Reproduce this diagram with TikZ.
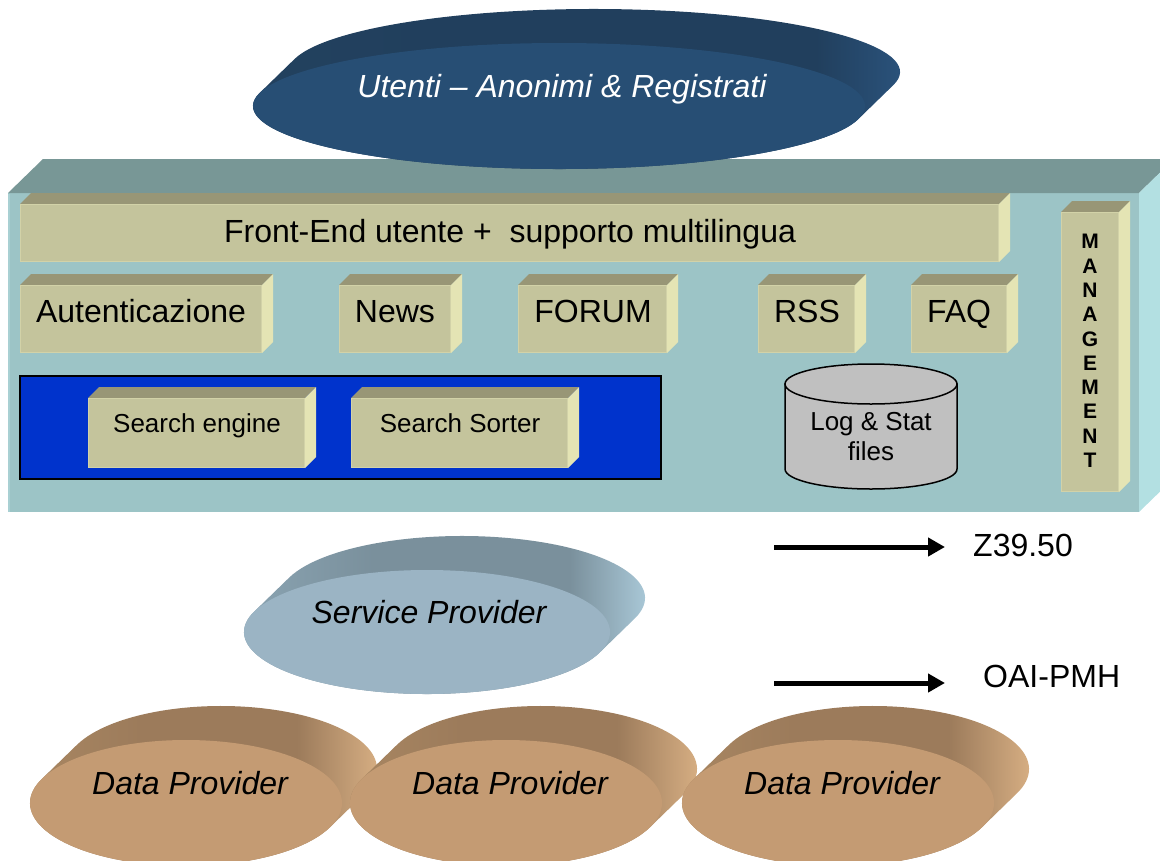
\documentclass[tikz,border=0pt]{standalone}
\usepackage{fontspec}
\setmainfont{Liberation Sans}
\usetikzlibrary{arrows.meta}
\definecolor{panelfront}{HTML}{9CC4C6}
\definecolor{paneltop}{HTML}{789796}
\definecolor{panelside}{HTML}{B3E0E2}
\definecolor{panelrim}{HTML}{A9D0D3}
\definecolor{boxfront}{HTML}{C4C49C}
\definecolor{boxtop}{HTML}{989676}
\definecolor{boxside}{HTML}{E4E4B4}
\definecolor{boxrim}{HTML}{D2D2A8}
\definecolor{searchblue}{HTML}{0033CC}
\definecolor{cylgray}{HTML}{C0C0C0}
\definecolor{userfront}{HTML}{274E74}
\definecolor{usersideA}{HTML}{23425F}
\definecolor{usersideB}{HTML}{213F5D}
\definecolor{usersideC}{HTML}{2D5884}
\definecolor{spfront}{HTML}{9BB4C4}
\definecolor{spsideA}{HTML}{8DA7B6}
\definecolor{spsideB}{HTML}{7A909C}
\definecolor{spsideC}{HTML}{B6D7E7}
\definecolor{dpfront}{HTML}{C49B73}
\definecolor{dpsideA}{HTML}{AB8963}
\definecolor{dpsideB}{HTML}{9C7B5B}
\definecolor{dpsideC}{HTML}{E4BA8C}
\pgfdeclarehorizontalshading{usershade}{100bp}{color(0bp)=(usersideA); color(25bp)=(usersideA); color(40bp)=(usersideB); color(67bp)=(usersideB); color(75bp)=(usersideC); color(100bp)=(usersideC)}
\pgfdeclarehorizontalshading{spshade}{100bp}{color(0bp)=(spsideA); color(25bp)=(spsideA); color(42bp)=(spsideB); color(64bp)=(spsideB); color(75bp)=(spsideC); color(100bp)=(spsideC)}
\pgfdeclarehorizontalshading{dpshade}{100bp}{color(0bp)=(dpsideA); color(25bp)=(dpsideA); color(42bp)=(dpsideB); color(62bp)=(dpsideB); color(75bp)=(dpsideC); color(100bp)=(dpsideC)}
% extruded disc: cx cy rx ry front-colour side-shading
\newcommand\extdisc[6]{%
  \pgfmathsetmacro\tz{atan(35*#4/(34*#3))}%
  \shade[shading=#6]
    (#1+35,#2-34) ++(\tz:#3 and #4)
    arc[start angle=\tz, end angle=\tz-180, x radius=#3, y radius=#4]
    -- ++(-35,34)
    arc[start angle=\tz+180, end angle=\tz, x radius=#3, y radius=#4]
    -- cycle;
  \fill[#5] (#1,#2) ellipse[x radius=#3, y radius=#4];
}
% bevelled box: front x1 y1 x2 y2
\newcommand\bevbox[4]{%
  \fill[boxtop] (#1,#2) -- (#1+11,#2-11) -- (#3+11,#2-11) -- (#3,#2) -- cycle;
  \fill[boxside] (#3,#2) -- (#3+11,#2-11) -- (#3+11,#4-11) -- (#3,#4) -- cycle;
  \fill[boxfront] (#1,#2) rectangle (#3,#4);
  \draw[boxrim, line width=1] (#1+0.5,#2+0.5) rectangle (#3-0.5,#4-0.5);
}
\tikzset{
  lbl/.style={inner sep=0pt, anchor=base, font=\fontsize{32}{38}\selectfont},
  smalllbl/.style={inner sep=0pt, anchor=base, font=\fontsize{26}{30}\selectfont},
  disclbl/.style={inner sep=0pt, anchor=base, font=\fontsize{32}{38}\selectfont\itshape},
  protoarrow/.style={line width=5pt, -{Triangle[length=17pt, width=18pt]}}
}
\begin{document}
\begin{tikzpicture}[x=1pt,y=-1pt]
\path[use as bounding box] (0,0) rectangle (1160,860);
\clip (0,0) rectangle (1160,860);

% main panel
\fill[panelfront] (8,193) rectangle (1139,512);
\fill[paneltop] (8,193) -- (43,159) -- (1174,159) -- (1139,193) -- cycle;
\fill[panelside] (1139,193) -- (1174,159) -- (1174,478) -- (1139,512) -- cycle;
\draw[panelrim, line width=2] (9,194) -- (9,512);

% users disc
\extdisc{559}{106}{306}{63}{userfront}{usershade}
\node[disclbl, text=white] (utenti) at (562,97) {Utenti – Anonimi \& Registrati};

% front-end bar and modules
\bevbox{20}{204}{999}{262}
\node[lbl] (frontend) at (510,242) {Front-End utente + \ supporto multilingua};
\bevbox{20}{285}{262}{353}
\node[lbl] (auth) at (141,322) {Autenticazione};
\bevbox{339}{285}{451}{353}
\node[lbl] (news) at (395,322) {News};
\bevbox{518}{285}{667}{353}
\node[lbl] (forum) at (593,322) {FORUM};
\bevbox{758}{285}{855}{353}
\node[lbl] (rss) at (807,322) {RSS};
\bevbox{911}{285}{1007}{353}
\node[lbl] (faq) at (959,322) {FAQ};

% management
\bevbox{1061}{212}{1119}{492}
\node[inner sep=0pt, align=center, font=\fontsize{21}{24.3}\selectfont\bfseries] (mgmt) at (1090,351)
  {M\\A\\N\\A\\G\\E\\M\\E\\N\\T};

% search area
\filldraw[fill=searchblue, draw=black, line width=1.5] (20,376) rectangle (661,479);
\bevbox{88}{398}{305}{468}
\node[smalllbl] (sengine) at (197,432) {Search engine};
\bevbox{351}{398}{568}{468}
\node[smalllbl] (ssorter) at (460,432) {Search Sorter};

% log cylinder
\filldraw[fill=cylgray, draw=black, line width=1.5] (785,384) -- (785,469)
  arc[start angle=180, end angle=0, x radius=86, y radius=20] -- (957,384) -- cycle;
\filldraw[fill=cylgray, draw=black, line width=1.5] (871,384) ellipse[x radius=86, y radius=20];
\node[inner sep=0pt, anchor=north, align=center, font=\fontsize{26}{30}\selectfont] (logs) at (871,412)
  {Log \& Stat\\files};

% protocol arrows
\coordinate (z1) at (774,547);
\coordinate (z2) at (945,547);
\draw[protoarrow] (z1) -- (z2);
\node[lbl, anchor=base west] (z3950) at (973,556) {Z39.50};
\coordinate (o1) at (774,683);
\coordinate (o2) at (945,683);
\draw[protoarrow] (o1) -- (o2);
\node[lbl, anchor=base west] (oai) at (983,687) {OAI-PMH};

% service provider
\extdisc{427}{632}{183}{62}{spfront}{spshade}
\node[disclbl] (sp) at (429,623) {Service Provider};

% data providers
\extdisc{186}{803}{156}{63}{dpfront}{dpshade}
\node[disclbl] (dp1) at (190,794) {Data Provider};
\extdisc{506}{803}{156}{63}{dpfront}{dpshade}
\node[disclbl] (dp2) at (510,794) {Data Provider};
\extdisc{838}{803}{156}{63}{dpfront}{dpshade}
\node[disclbl] (dp3) at (842,794) {Data Provider};
\end{tikzpicture}
\end{document}
